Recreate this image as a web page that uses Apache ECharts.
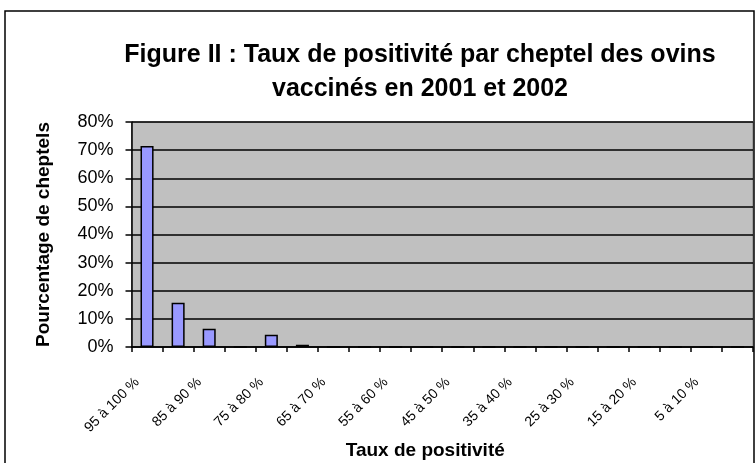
<!DOCTYPE html>
<html>
<head>
<meta charset="utf-8">
<script src="https://cdn.jsdelivr.net/npm/echarts@6/dist/echarts.min.js"></script>
<style>
html, body { margin: 0; padding: 0; background: #fff; }
#main { width: 756px; height: 463px; }
</style>
</head>
<body>
<div id="main"></div>
<script>
// classes de taux de positivité
var categories = ['95 à 100 %', '90 à 95 %', '85 à 90 %', '80 à 85 %', '75 à 80 %',
    '70 à 75 %', '65 à 70 %', '60 à 65 %', '55 à 60 %', '50 à 55 %',
    '45 à 50 %', '40 à 45 %', '35 à 40 %', '30 à 35 %', '25 à 30 %',
    '20 à 25 %', '15 à 20 %', '10 à 15 %', '5 à 10 %', '0 à 5 %'];
// pourcentage de cheptels
var values = [71.5, 15.7, 6.5, 0, 4.4, 0.8, 0, 0, 0, 0,
    0, 0, 0, 0, 0, 0, 0, 0, 0, 0];
var titleLines = ['Figure II : Taux de positivité par cheptel des ovins', 'vaccinés en 2001 et 2002'];
var yTicks = { min: 0, max: 80, interval: 10 };

var font = 'Liberation Sans, Arial, sans-serif';

var option = {
    animation: false,
    backgroundColor: '#fff',
    graphic: [
        {
            type: 'rect',
            shape: { x: 5, y: 11, width: 749, height: 470 },
            style: { fill: 'none', stroke: '#000', lineWidth: 1.5 },
            z: 0
        },
        {
            type: 'text',
            x: 420, y: 55,
            style: { text: titleLines[0], font: 'bold 25px ' + font, fill: '#000', textAlign: 'center', textVerticalAlign: 'middle' }
        },
        {
            type: 'text',
            x: 420, y: 89.5,
            style: { text: titleLines[1], font: 'bold 25px ' + font, fill: '#000', textAlign: 'center', textVerticalAlign: 'middle' }
        }
    ],
    grid: {
        left: 131.5,
        right: 3,
        top: 122,
        bottom: 116,
        show: true,
        backgroundColor: '#C0C0C0',
        borderColor: '#808080',
        borderWidth: 1
    },
    xAxis: {
        type: 'category',
        data: categories,
        name: 'Taux de positivité',
        nameLocation: 'middle',
        nameGap: 94,
        nameTextStyle: { fontFamily: font, fontWeight: 'bold', fontSize: 19, color: '#000', padding: [0, 34, 0, 0] },
        axisLine: { lineStyle: { color: '#000', width: 1.5 } },
        axisTick: { show: true, interval: 0, length: 5, lineStyle: { color: '#000', width: 1.5 } },
        axisLabel: {
            interval: 1,
            rotate: 45,
            margin: 23,
            padding: [0, 14, 0, 0],
            fontFamily: font,
            fontSize: 14,
            color: '#000'
        },
        splitLine: { show: false }
    },
    yAxis: {
        type: 'value',
        min: yTicks.min,
        max: yTicks.max,
        interval: yTicks.interval,
        name: 'Pourcentage de cheptels',
        nameLocation: 'middle',
        nameGap: 78,
        nameTextStyle: { fontFamily: font, fontWeight: 'bold', fontSize: 19, color: '#000' },
        axisLine: { show: true, lineStyle: { color: '#000', width: 1.5 } },
        axisTick: { show: true, length: 6, lineStyle: { color: '#000', width: 1.5 } },
        axisLabel: {
            formatter: '{value}%',
            margin: 18,
            fontFamily: font,
            fontSize: 18,
            color: '#000'
        },
        splitLine: { show: true, lineStyle: { color: '#000', width: 1.5 } }
    },
    series: [
        {
            name: 'Pourcentage de cheptels',
            type: 'bar',
            data: values,
            barWidth: '42%',
            itemStyle: { color: '#9999FF', borderColor: '#000', borderWidth: 1.5 }
        }
    ]
};

var myChart = echarts.init(document.getElementById('main'));
myChart.setOption(option);
</script>
</body>
</html>
